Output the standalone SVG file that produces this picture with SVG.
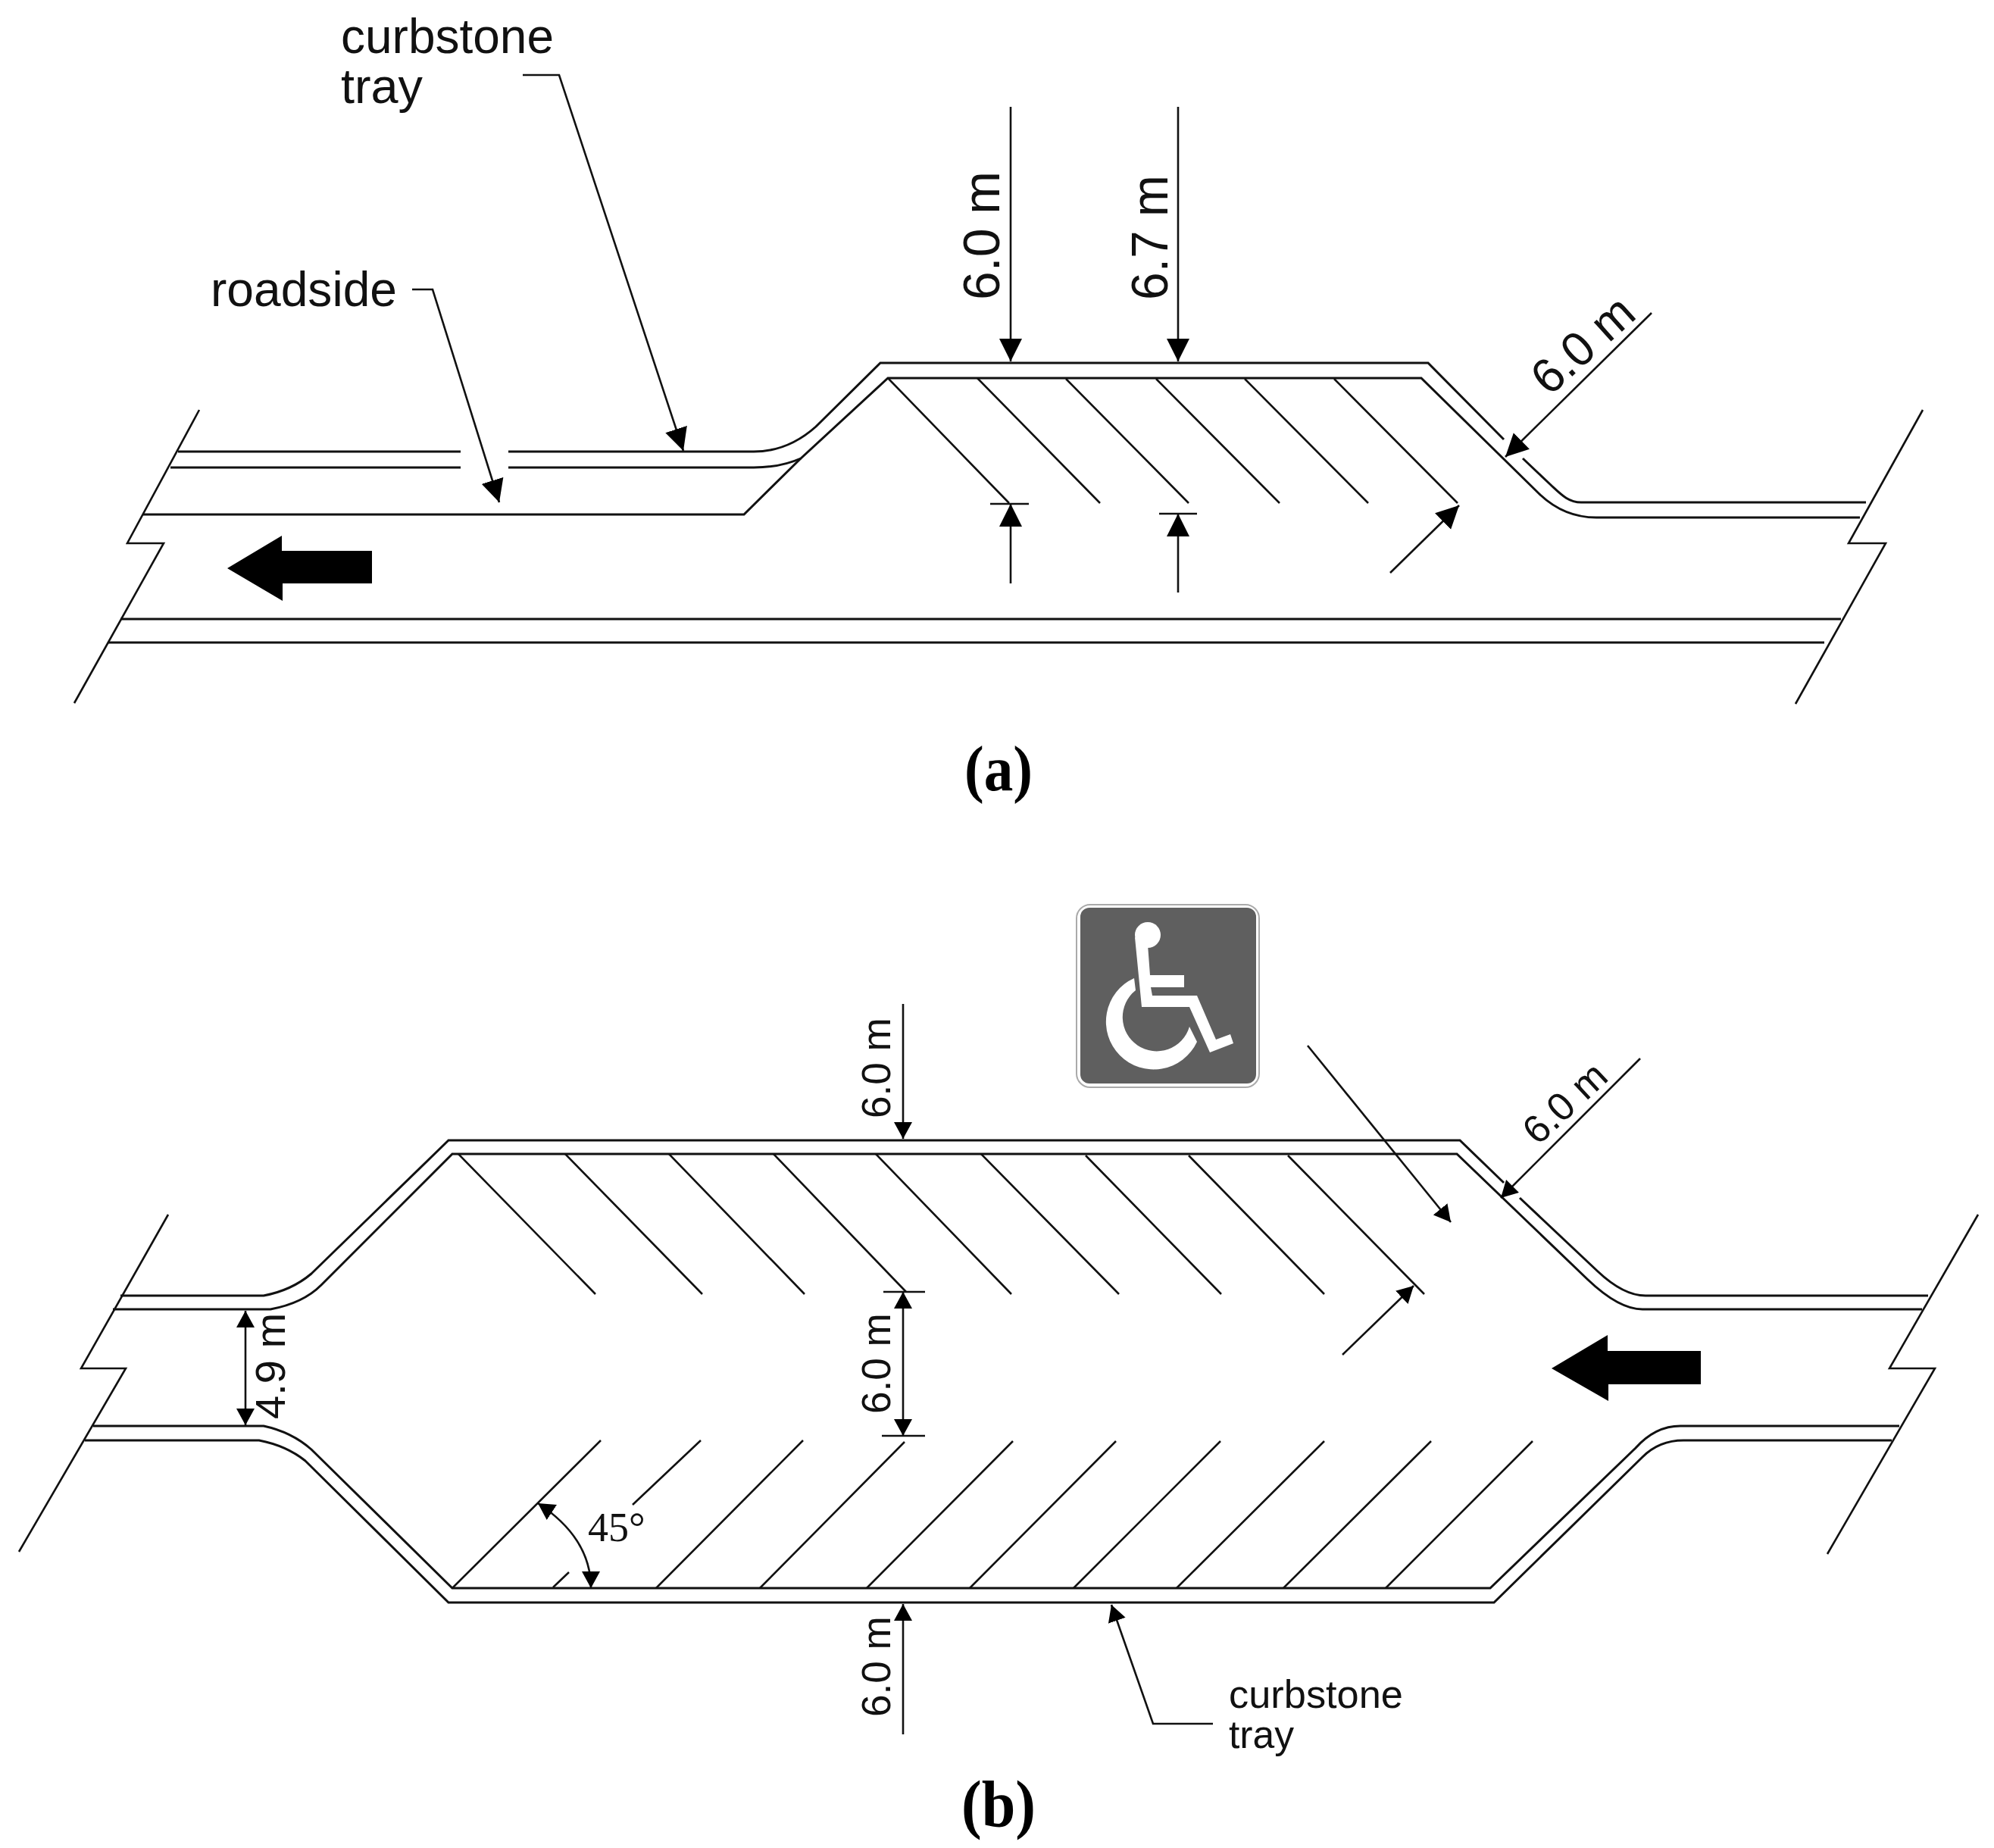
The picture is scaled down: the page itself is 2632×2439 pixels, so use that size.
<svg xmlns="http://www.w3.org/2000/svg" width="2632" height="2439" viewBox="0 0 2632 2439">
<style>
.l{fill:none;stroke:#111;stroke-width:3;stroke-linejoin:miter}
.d{fill:none;stroke:#111;stroke-width:2.6}
.big{marker-end:url(#ah)}
.sm{marker-end:url(#as)}
.both{marker-start:url(#as);marker-end:url(#as)}
.t{font-family:"Liberation Sans",Arial,sans-serif;fill:#111}
.cap{font-family:"Liberation Serif","Times New Roman",serif;font-weight:700;fill:#000}
.deg{font-family:"Liberation Serif","Times New Roman",serif;font-size:54px;fill:#111}
</style>
<defs>
<marker id="ah" markerUnits="userSpaceOnUse" markerWidth="40" markerHeight="36" refX="30" refY="15" orient="auto-start-reverse" viewBox="0 0 40 36"><path d="M0,0L30,15L0,30Z" fill="#000"/></marker>
<marker id="as" markerUnits="userSpaceOnUse" markerWidth="30" markerHeight="30" refX="22" refY="12" orient="auto-start-reverse" viewBox="0 0 30 30"><path d="M0,0L22,12L0,24Z" fill="#000"/></marker>
</defs>
<rect width="2632" height="2439" fill="#fff"/>

<g id="road-a">
<path class="l" d="M235,596H608M671,596H995Q1040,596 1077,563L1162,479H1885L1985,580M2010,605L2047,640C2060,652 2070,663 2087,663H2463"/>
<path class="l" d="M225,617H608M671,617H995Q1030,617 1057,605L1172,499H1876L2033,653Q2065,683 2107,683H2455"/>
<path class="l" d="M189,679H982L1057,605"/>
<path class="l" d="M159,817H2430M143,848H2408"/>
<path class="d" d="M263,541L168,717H216L98,928"/>
<path class="d" d="M2538,541L2440,717H2489L2370,929"/>
</g>
<g id="hatch-a">
<path class="d" d="M1172,499L1332,664M1290,499L1452,664M1407,500L1569,664M1526,500L1689,664M1643,500L1806,664M1761,500L1924,664"/>
</g>
<path id="flow-arrow-a" d="M300,750L372,707V727H491V770H373V793Z" fill="#000"/>

<g id="road-b">
<path class="l" d="M159,1710H348Q385,1703 411,1681L592,1505H1927L1985,1561M2006,1581L2109,1678Q2143,1710 2172,1710H2545"/>
<path class="l" d="M149,1728H357Q400,1720 424,1696L597,1523H1923L2096,1689Q2137,1728 2168,1728H2537"/>
<path class="l" d="M123,1882H348Q385,1890 411,1913L597,2096H1967L2159,1911Q2185,1882 2218,1882H2507"/>
<path class="l" d="M112,1901H342Q378,1908 403,1928L592,2115H1972L2168,1923Q2190,1901 2222,1901H2497"/>
<path class="d" d="M222,1603L107,1806H166L25,2048"/>
<path class="d" d="M2611,1603L2494,1806H2554L2412,2051"/>
</g>
<g id="hatch-b-top">
<path class="d" d="M605,1523L786,1708M746,1523L927,1708M883,1523L1062,1708M1021,1523L1196,1705M1156,1523L1335,1708M1295,1523L1477,1708M1433,1525L1612,1708M1569,1525L1748,1708M1700,1525L1880,1708"/>
</g>
<g id="hatch-b-bottom">
<path class="d" d="M597,2096L793,1901M730,2095L751,2075M835,1986L925,1901M866,2096L1060,1901M1003,2096L1194,1903M1144,2096L1337,1902M1280,2096L1473,1902M1417,2096L1611,1902M1553,2096L1748,1902M1694,2096L1889,1902M1829,2096L2023,1902"/>
</g>
<path id="flow-arrow-b" d="M2048,1806L2122,1762V1783H2245V1827H2123V1849Z" fill="#000"/>

<g id="sign">
<rect x="1421" y="1194" width="241" height="241" rx="18" fill="#fff" stroke="#aaa" stroke-width="2"/>
<rect x="1426" y="1198" width="232" height="232" rx="12" fill="#5f5f5f"/>
<circle cx="1515" cy="1234" r="17" fill="#fff"/>
<path fill="#fff" d="M1498,1237L1507,1329H1570L1597,1389L1628,1377L1624,1365L1605,1372L1580,1314H1521L1519,1303H1563V1287H1518L1515,1247Z"/>
<path fill="#fff" d="M1497,1291A63,63 0 1 0 1580,1375L1570,1355A45,45 0 1 1 1499,1307Z"/>
</g>

<g id="connectors">
<path class="d big" d="M690,99H738L902,595"/>
<path class="d big" d="M544,382H571L659,663"/>
<path class="d big" d="M1334,141V477"/>
<path class="d big" d="M1555,141V477"/>
<path class="d" d="M1307,665H1358M1530,678H1580"/>
<path class="d big" d="M1334,770V665"/>
<path class="d big" d="M1555,782V678"/>
<path class="d big" d="M1835,756L1926,667"/>
<path class="d big" d="M2180,413L1987,603"/>
<path class="d sm" d="M1192,1325V1503"/>
<path class="d" d="M1166,1705H1221M1164,1895H1221"/>
<path class="d both" d="M1192,1705V1895"/>
<path class="d sm" d="M1192,2289V2117"/>
<path class="d both" d="M324,1730V1881"/>
<path class="d both" d="M710,1984Q780,2030 780,2096"/>
<path class="d sm" d="M1726,1380L1915,1613"/>
<path class="d sm" d="M1772,1788L1866,1697"/>
<path class="d sm" d="M2165,1397L1981,1581"/>
<path class="d sm" d="M1601,2275H1522L1467,2118"/>
</g>

<g id="labels-a">
<text class="t" x="450" y="70" font-size="64" textLength="281" lengthAdjust="spacingAndGlyphs">curbstone</text>
<text class="t" x="450" y="136" font-size="64" textLength="108" lengthAdjust="spacingAndGlyphs">tray</text>
<text class="t" x="278" y="404" font-size="64" textLength="246" lengthAdjust="spacingAndGlyphs">roadside</text>
<text class="t" transform="translate(1319,396) rotate(-90)" font-size="68" textLength="170" lengthAdjust="spacingAndGlyphs">6.0 m</text>
<text class="t" transform="translate(1541,396) rotate(-90)" font-size="68" textLength="165" lengthAdjust="spacingAndGlyphs">6.7 m</text>
<text class="t" transform="translate(2045,524) rotate(-42)" font-size="64" textLength="158" lengthAdjust="spacingAndGlyphs">6.0 m</text>
<text class="cap" x="1273" y="1043" font-size="84" textLength="90" lengthAdjust="spacingAndGlyphs">(a)</text>
</g>
<g id="labels-b">
<text class="t" transform="translate(1175,1476) rotate(-90)" font-size="53">6.0 m</text>
<text class="t" transform="translate(1175,1866) rotate(-90)" font-size="53">6.0 m</text>
<text class="t" transform="translate(1175,2266) rotate(-90)" font-size="53">6.0 m</text>
<text class="t" transform="translate(376,1873) rotate(-90)" font-size="56">4.9 m</text>
<text class="t" transform="translate(2030,1513) rotate(-43)" font-size="52">6.0 m</text>
<text class="deg" x="776" y="2034">45°</text>
<text class="t" x="1622" y="2254" font-size="52" textLength="230" lengthAdjust="spacingAndGlyphs">curbstone</text>
<text class="t" x="1622" y="2307" font-size="52" textLength="86" lengthAdjust="spacingAndGlyphs">tray</text>
<text class="cap" x="1269" y="2410" font-size="86" textLength="98" lengthAdjust="spacingAndGlyphs">(b)</text>
</g>
</svg>
